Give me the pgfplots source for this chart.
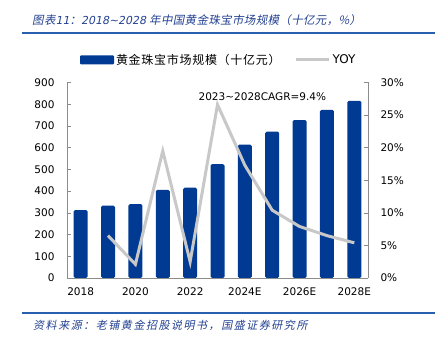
\documentclass[border=0pt]{standalone}
\usepackage{pgfplots}
\pgfplotsset{compat=1.18}
\usepackage{fontspec}
\setmainfont{DejaVu Sans}
\newfontfamily\cjk[LetterSpace=6]{Noto Sans CJK SC}
\newfontfamily\cjkit[FakeSlant=0.2,LetterSpace=3]{Noto Sans CJK SC}
\newfontfamily\cjksrc[FakeSlant=0.2,LetterSpace=14]{Noto Sans CJK SC}
\newfontfamily\latit[FakeSlant=0.2]{DejaVu Sans}
\definecolor{barblue}{RGB}{0,58,147}
\definecolor{yoygray}{RGB}{200,200,200}
\definecolor{axgray}{RGB}{140,140,140}
\definecolor{titleblue}{RGB}{35,65,145}
\definecolor{ruleblue}{RGB}{40,95,175}
\begin{document}
\begin{tikzpicture}
\useasboundingbox (0,0) rectangle (442pt,340pt);
% title and rules
\node[anchor=west,inner sep=0pt,text=titleblue] at (32pt,320pt)
 {\fontsize{11.5}{13}\cjkit 图表{\fontsize{11}{13}\latit 11}：{\fontsize{11}{13}\latit 2018\textasciitilde2028} 年中国黄金珠宝市场规模（十亿元，\%）};
\draw[ruleblue,line width=1.5pt] (22pt,307pt) -- (435pt,307pt);
\draw[ruleblue,line width=1.2pt] (22pt,27pt) -- (435pt,27pt);
\node[anchor=west,inner sep=0pt,text=titleblue] at (33pt,15pt)
 {\fontsize{11}{13}\cjksrc 资料来源：老铺黄金招股说明书，国盛证券研究所};
\begin{axis}[
  at={(67pt,62pt)}, anchor=south west,
  scale only axis, width=301pt, height=195.5pt,
  xmin=-0.5, xmax=10.5, ymin=0, ymax=900,
  axis x line*=bottom, axis y line*=left,
  axis line style={axgray,line width=0.6pt},
  xtick={0,2,4,6,8,10},
  xticklabels={2018,2020,2022,2024E,2026E,2028E},
  minor xtick={0.5,1.5,...,9.5},
  xtick style={draw=none},
  minor x tick style={axgray,line width=0.6pt},
  minor tick length=4pt,
  ytick={0,100,...,900},
  ytick style={axgray,line width=0.6pt},
  major tick length=4pt,
  tick align=inside,
  /pgf/number format/assume math mode=true,
  tick label style={font=\fontsize{10.5}{12}\selectfont,text=black},
  xticklabel style={yshift=-6pt},
  yticklabel style={xshift=-9pt},
  legend columns=2,
  legend style={draw=none,fill=none,inner sep=0pt,outer sep=0pt,
    at={(rel axis cs:0,1)},anchor=west,xshift=13pt,yshift=22.7pt,
    font=\fontsize{12}{14}\selectfont,
    /tikz/every even column/.append style={column sep=12pt}},
]
\addplot[ybar,fill=barblue,draw=none,bar width=14pt,rounded corners=1.5pt,
  legend image code/.code={\fill[barblue,rounded corners=1pt] (0pt,-4.5pt) rectangle (34pt,4.5pt);}]
 coordinates {(0,313)(1,333)(2,340)(3,406)(4,416)(5,524)(6,614)(7,674)(8,727)(9,774)(10,816)};
\addlegendentry{\cjk 黄金珠宝市场规模（十亿元）}
\addlegendimage{legend image code/.code={\draw[yoygray,line width=3pt] (0pt,0pt) -- (33pt,0pt);}}
\addlegendentry{YOY}
\node[font=\fontsize{10.5}{12}\selectfont] at (axis cs:6.64,834) {2023\textasciitilde2028CAGR=9.4\%};
\end{axis}
\begin{axis}[
  at={(67pt,62pt)}, anchor=south west,
  scale only axis, width=301pt, height=195.5pt,
  xmin=-0.5, xmax=10.5, ymin=0, ymax=30,
  axis x line=none, axis y line*=right,
  axis line style={axgray,line width=0.6pt},
  ytick={0,5,...,30},
  ytick style={axgray,line width=0.6pt},
  major tick length=4pt,
  tick align=inside,
  /pgf/number format/assume math mode=true,
  yticklabel={\pgfmathprintnumber{\tick}\%},
  tick label style={font=\fontsize{10.5}{12}\selectfont,text=black},
  yticklabel style={xshift=9pt},
]
\addplot[yoygray,line width=3pt,no marks]
 coordinates {(1,6.5)(2,2.1)(3,19.5)(4,2.5)(5,26.6)(6,17.3)(7,10.4)(8,7.9)(9,6.5)(10,5.4)};
\end{axis}
\end{tikzpicture}
\end{document}
